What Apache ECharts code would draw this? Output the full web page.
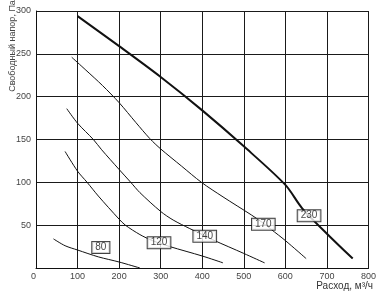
<!DOCTYPE html>
<html><head><meta charset="utf-8">
<script src="https://cdn.jsdelivr.net/npm/echarts@6/dist/echarts.min.js"></script>
<style>html,body{margin:0;padding:0;background:#fff}#c{width:379px;height:295px}</style>
</head><body><div id="c"></div>
<script>
const xTicks = [0, 100, 200, 300, 400, 500, 600, 700, 800];
const yTicks = [0, 50, 100, 150, 200, 250, 300];
const curve80 = [[42,34],[70,26],[100,21],[150,13],[200,7],[250,0]];
const curve120 = [[70,136],[100,113],[123,100],[150,84],[200,57],[215,50],[250,39],[280,32],[322,25],[400,14],[450,6]];
const curve140 = [[74,186],[100,169],[138,150],[158,138],[200,115],[228,100],[250,88],[300,66],[330,56],[370,46],[400,39],[425,33],[500,17],[550,6]];
const curve170 = [[86,246],[120,231],[160,213],[200,193],[240,170],[274,151],[300,139],[350,119],[398,100],[450,83],[518,62],[545,53],[566,45],[600,32],[650,11]];
const curve230 = [[100,294],[200,259],[300,223],[400,184],[500,142],[600,97],[640,70],[700,40],[762,11]];
const curveLabels = ['80','120','140','170','230'];
const labelPos = [[156,24],[296,29.5],[406,37],[547,51],[657,61]];
const yName = 'Свободный напор, Па';
const xName = 'Расход, м³/ч';

const chart = echarts.init(document.getElementById('c'), null, {renderer:'canvas'});
const lineS = (d, w) => ({type:'line', data:d, showSymbol:false, smooth:0.3, lineStyle:{color:'#111', width:w}, z:3, silent:true});
chart.setOption({
  animation:false,
  grid:{left:36, right:10, top:11, bottom:27, containLabel:false},
  xAxis:{type:'value', min:xTicks[0], max:xTicks[xTicks.length-1], interval:100,
    axisLine:{lineStyle:{color:'#111'}}, axisTick:{show:false},
    axisLabel:{fontSize:9, color:'#444', margin:4, fontFamily:'Liberation Sans', alignMinLabel:'right'},
    splitLine:{show:true, lineStyle:{color:'#1a1a1a', width:1}}},
  yAxis:{type:'value', min:yTicks[0], max:yTicks[yTicks.length-1], interval:50,
    axisLine:{show:true, lineStyle:{color:'#111'}}, axisTick:{show:false},
    axisLabel:{fontSize:9, color:'#444', margin:5, fontFamily:'Liberation Sans', showMinLabel:false},
    splitLine:{show:true, lineStyle:{color:'#1a1a1a', width:1}}},
  graphic:[
    {type:'text', x:13, y:46, rotation:Math.PI/2, style:{text:yName, font:'9px "Liberation Sans"', fill:'#444', align:'center', verticalAlign:'middle'}},
    {type:'text', x:373, y:286, style:{text:xName, font:'10px "Liberation Sans"', fill:'#333', align:'right', verticalAlign:'middle'}}
  ],
  series:[
    lineS(curve80,1), lineS(curve120,1), lineS(curve140,1), lineS(curve170,1), lineS(curve230,2),
    {type:'scatter', data:labelPos.map((p,i)=>[p[0],p[1],curveLabels[i]]), symbolSize:0, z:10, silent:true,
     label:{show:true, position:'inside', formatter:p=>p.value[2], fontSize:10, color:'#111', fontFamily:'Liberation Sans',
       backgroundColor:'#fff', borderColor:'#111', borderWidth:1, padding:[1,3,0,3]}}
  ]
});
</script></body></html>
